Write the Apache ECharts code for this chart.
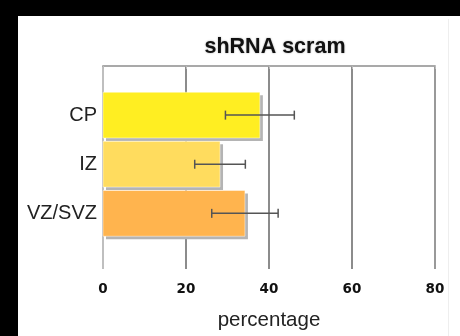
<!DOCTYPE html>
<html>
<head>
<meta charset="utf-8">
<script src="https://cdn.jsdelivr.net/npm/echarts@6/dist/echarts.min.js"></script>
<style>html,body{margin:0;padding:0;background:#fff}#c{width:460px;height:336px}</style>
</head>
<body>
<div id="c"></div>
<script>
var categories = ['CP', 'IZ', 'VZ/SVZ'];
var values = [37.8, 28.2, 34.2];
var errors = [8.3, 6.1, 8.0];
var colors = ['#FFEE22', '#FFDC5E', '#FFB44E'];
var xTicks = [0, 20, 40, 60, 80];

var chart = echarts.init(document.getElementById('c'));
var data = categories.map(function (c, i) { return [values[i], i + 1, errors[i], i]; });

chart.setOption({
  backgroundColor: '#fff',
  animation: false,
  title: {
    text: 'shRNA scram', left: 270, top: 31, textAlign: 'center',
    textStyle: { fontFamily: 'Liberation Sans', fontSize: 21.5, fontWeight: 'bold', color: '#111',
      textShadowColor: 'rgba(0,0,0,0.35)', textShadowBlur: 2 }
  },
  graphic: [
    { type: 'rect', shape: { x: 0, y: 0, width: 18, height: 336 }, style: { fill: '#000' }, z: 100 },
    { type: 'rect', shape: { x: 0, y: 0, width: 460, height: 16 }, style: { fill: '#000' }, z: 100 },
    { type: 'line', shape: { x1: 448.5, y1: 19, x2: 448.5, y2: 336 }, style: { stroke: '#eeeeee', lineWidth: 1 } }
  ],
  grid: { left: 103, right: 25, top: 66, bottom: 53 },
  xAxis: [{
    type: 'value', min: xTicks[0], max: xTicks[xTicks.length - 1], interval: 20,
    axisLine: { show: true, lineStyle: { color: '#8a8a8a', width: 1.5 } },
    axisTick: { show: true, length: 3, lineStyle: { color: '#bbb' } },
    splitLine: { show: true, lineStyle: { color: ['#aaaaaa', '#666', '#666', '#666', '#777'], width: 1.5 } },
    axisLabel: { fontFamily: 'DejaVu Sans', fontWeight: 'bold', fontSize: 13.5, color: '#111', margin: 13 },
    name: 'percentage', nameLocation: 'middle', nameGap: 41,
    nameTextStyle: { fontFamily: 'Liberation Sans', fontSize: 20.5, color: '#222' }
  }, {
    type: 'value', position: 'top', min: 0, max: 80,
    axisLine: { show: true, lineStyle: { color: '#aaa', width: 1.5 } },
    axisTick: { show: false }, axisLabel: { show: false }, splitLine: { show: false }
  }],
  yAxis: {
    type: 'value', inverse: true, min: 0, max: 4.133, interval: 1,
    axisLine: { show: false }, axisTick: { show: false }, splitLine: { show: false },
    axisLabel: {
      fontFamily: 'Liberation Sans', fontSize: 20, color: '#222', margin: 6, padding: [0, 0, 6, 0],
      formatter: function (v) { var i = Math.round(v) - 1; return (Math.abs(v - Math.round(v)) < 1e-6 && categories[i]) ? categories[i] : ''; }
    }
  },
  series: [{
    type: 'custom',
    data: data,
    renderItem: function (params, api) {
      var v = api.value(0), pos = api.value(1), err = api.value(2), idx = api.value(3);
      var p0 = api.coord([0, pos - 0.466]);
      var p1 = api.coord([v, pos + 0.466]);
      var c = api.coord([v, pos]);
      var el = api.coord([v - err, pos]);
      var er = api.coord([v + err, pos]);
      var w = p1[0] - p0[0], h = p1[1] - p0[1];
      var cap = 4.5;
      return {
        type: 'group',
        children: [
          { type: 'rect', shape: { x: p0[0] + 3, y: p0[1] + 3, width: w, height: h }, style: { fill: '#b4b4b4' } },
          { type: 'rect', shape: { x: p0[0], y: p0[1], width: w, height: h }, style: { fill: colors[idx], stroke: 'rgba(255,255,255,0.45)', lineWidth: 1 } },
          { type: 'line', shape: { x1: el[0], y1: c[1], x2: er[0], y2: c[1] }, style: { stroke: '#555', lineWidth: 1.5 } },
          { type: 'line', shape: { x1: el[0], y1: c[1] - cap, x2: el[0], y2: c[1] + cap }, style: { stroke: '#555', lineWidth: 1.5 } },
          { type: 'line', shape: { x1: er[0], y1: c[1] - cap, x2: er[0], y2: c[1] + cap }, style: { stroke: '#555', lineWidth: 1.5 } }
        ]
      };
    }
  }]
});
</script>
</body>
</html>
